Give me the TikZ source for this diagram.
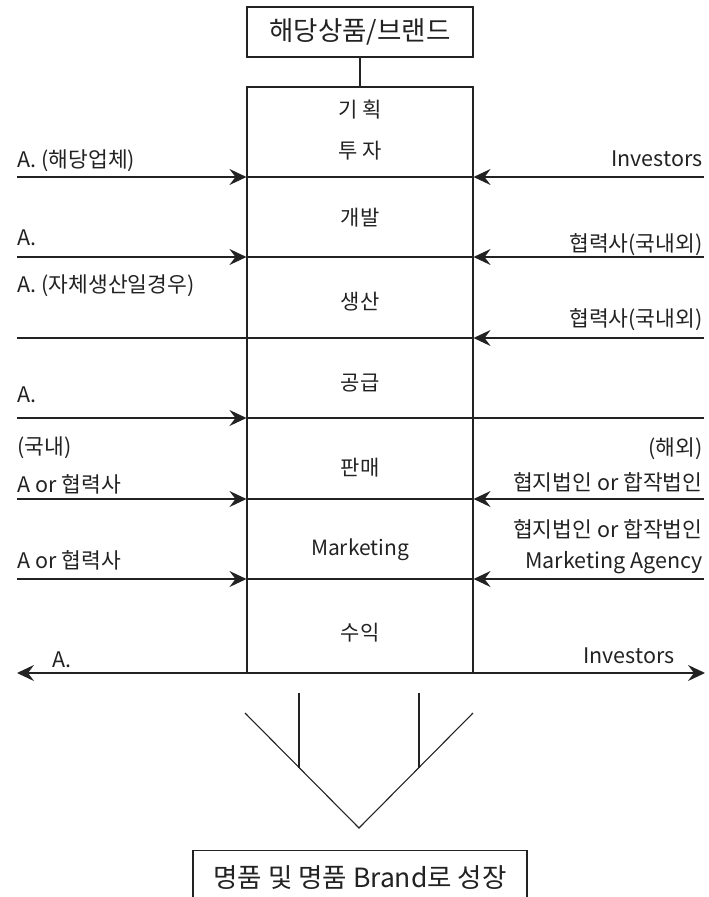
\documentclass[tikz,border=0pt]{standalone}
\usepackage{fontspec}
\setmainfont{Noto Sans CJK KR}
\usetikzlibrary{arrows.meta}
\definecolor{ink}{HTML}{222222}
\tikzset{
  lbl/.style={font=\fontsize{21.5pt}{25pt}\selectfont, text=ink, inner sep=0pt},
  boxlbl/.style={font=\fontsize{21pt}{25pt}\selectfont, text=ink, inner sep=0pt},
  arr/.style={-{Stealth[length=17pt,width=16pt,inset=6pt]}},
  dblarr/.style={{Stealth[length=17pt,width=16pt,inset=6pt]}-{Stealth[length=17pt,width=16pt,inset=6pt]}, line width=1.8pt},
}
\begin{document}
\begin{tikzpicture}[x=1pt,y=-1pt,line width=1.1pt,draw=ink]
\useasboundingbox (0,0) rectangle (709,897);

% title
\node[draw, minimum width=226pt, minimum height=50pt, inner sep=0pt,
      font=\fontsize{26.5pt}{30pt}\selectfont, text=ink] (title) at (360,32) {해당상품/브랜드};
% main box
\node[draw, minimum width=226pt, minimum height=586pt, inner sep=0pt] (main) at (360,380) {};
\draw (title.south) -- (main.north);

% box labels
\node[boxlbl] (b1) at (360,110) {기 획};
\node[boxlbl] (b2) at (360,151) {투 자};
\node[boxlbl] (b3) at (360,218) {개발};
\node[boxlbl] (b4) at (360,302) {생산};
\node[boxlbl] (b5) at (360,383) {공급};
\node[boxlbl] (b6) at (360,468) {판매};
\node[boxlbl] (b7) at (360,550) {Marketing};
\node[boxlbl] (b8) at (360,633) {수익};

% row coordinates
\foreach \i/\y in {1/177,2/257,3/338,4/418,5/499,6/579}{
  \coordinate (L\i) at (17,\y);
  \coordinate (R\i) at (704,\y);
}
\coordinate (L7) at (17,673);
\coordinate (R7) at (705,673);

% separators across box
\foreach \i in {1,...,6}{
  \draw (L\i -| main.west) -- (R\i -| main.east);
}
% left sides
\draw[arr] (L1) -- (L1 -| main.west);
\draw[arr] (L2) -- (L2 -| main.west);
\draw (L3) -- (L3 -| main.west);
\draw[arr] (L4) -- (L4 -| main.west);
\draw[arr] (L5) -- (L5 -| main.west);
\draw[arr] (L6) -- (L6 -| main.west);
% right sides
\draw[arr] (R1) -- (R1 -| main.east);
\draw[arr] (R2) -- (R2 -| main.east);
\draw[arr] (R3) -- (R3 -| main.east);
\draw (R4) -- (R4 -| main.east);
\draw[arr] (R5) -- (R5 -| main.east);
\draw[arr] (R6) -- (R6 -| main.east);
% bottom double arrow
\draw[dblarr] (L7) -- (R7);

% left labels
\node[lbl, anchor=base west] (la1) at (17,167) {A. (해당업체)};
\node[lbl, anchor=base west] (la2) at (17,245) {A.};
\node[lbl, anchor=base west] (la3) at (17,292) {A. (자체생산일경우)};
\node[lbl, anchor=base west] (la4) at (17,402) {A.};
\node[lbl, anchor=base west] (la5) at (17,454) {(국내)};
\node[lbl, anchor=base west] (la6) at (17,492) {A or 협력사};
\node[lbl, anchor=base west] (la7) at (17,568) {A or 협력사};
\node[lbl, anchor=base west] (la8) at (52,667) {A.};

% right labels
\node[lbl, anchor=base east] (ra1) at (703,166) {Investors};
\node[lbl, anchor=base east] (ra2) at (703,251) {협력사(국내외)};
\node[lbl, anchor=base east] (ra3) at (703,326) {협력사(국내외)};
\node[lbl, anchor=base east] (ra4) at (703,455) {(해외)};
\node[lbl, anchor=base east] (ra5) at (703,490) {협지법인 or 합작법인};
\node[lbl, anchor=base east] (ra6) at (703,537) {협지법인 or 합작법인};
\node[lbl, anchor=base east] (ra7) at (703,568) {Marketing Agency};
\node[lbl, anchor=base east] (ra8) at (675,663) {Investors};

% V shape
\coordinate (VL) at (245,713);
\coordinate (VA) at (359,828);
\coordinate (VR) at (473,713);
\coordinate (VT1) at (299,693);
\coordinate (VB1) at (299,767.5);
\coordinate (VT2) at (419,693);
\coordinate (VB2) at (419,767.5);
\draw (VL) -- (VA) -- (VR);
\draw (VT1) -- (VB1);
\draw (VT2) -- (VB2);

% bottom box (cut by page edge)
\node[draw, anchor=north, minimum width=334pt, minimum height=60pt, inner sep=0pt] (goal) at (360,850) {};
\node[font=\fontsize{26.5pt}{30pt}\selectfont, text=ink, inner sep=0pt] (goaltxt) at (360,878) {명품 및 명품 Brand로 성장};
\end{tikzpicture}
\end{document}
